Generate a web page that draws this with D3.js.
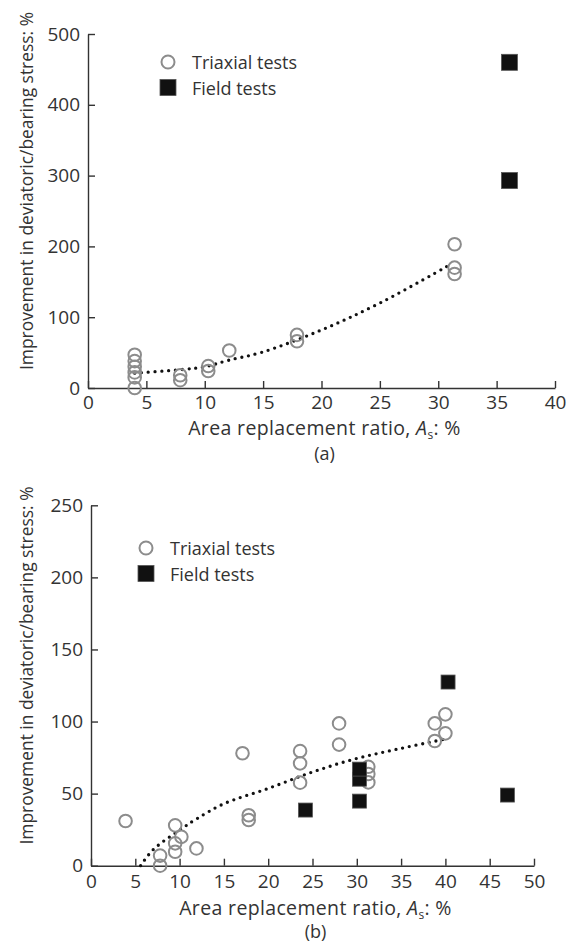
<!DOCTYPE html>
<html lang="en">
<head>
<meta charset="utf-8">
<title>improvement vs area replacement ratio</title>
<script type="text/javascript" src="https://cdnjs.cloudflare.com/ajax/libs/d3/7.8.5/d3.min.js"></script>
<style type="text/css">
  body{margin:0;background:#fff;font-family:"Open Sans",sans-serif;}
  .axis path,.axis line{stroke:#333;stroke-width:1.4;}
  .axis text{font-family:"Open Sans",sans-serif;font-size:19px;fill:#333;}
  .lab{font-family:"Open Sans",sans-serif;font-size:18px;fill:#333;}
  .ylab{font-family:"Open Sans",sans-serif;font-size:17.4px;fill:#333;}
  .xlab{font-family:"Open Sans",sans-serif;font-size:19.5px;letter-spacing:0.35px;fill:#333;}
  .leg{font-family:"Open Sans",sans-serif;font-size:18px;fill:#333;}
</style>
</head>
<body>
<div id="chart"></div>
<script type="text/javascript">
// (a) values
var triAX = [4, 4, 4, 4, 4, 4, 7.9, 7.9, 10.3, 10.3, 12.1, 17.9, 17.9, 31.4, 31.4, 31.4]
var triAY = [47, 38, 30, 22, 15, 0, 18, 11, 31, 24, 53, 75, 66, 203, 170, 161]
var fieldAX = [36.1, 36.1]
var fieldAY = [460, 293]
var trendAX = [4, 8, 10, 12, 15, 20, 25, 31.2]
var trendAY = [21, 26, 30, 39, 51, 82, 120, 176]
var xTicksA = [0, 5, 10, 15, 20, 25, 30, 35, 40]
var yTicksA = [0, 100, 200, 300, 400, 500]

// (b)
var triBX = [3.9, 7.8, 7.8, 9.5, 9.5, 9.5, 10.2, 11.9, 17.1, 17.8, 17.8, 23.6, 23.6, 23.6, 28, 28, 31.3, 31.3, 31.3, 38.8, 38.8, 40, 40]
var triBY = [31, 7, 0, 28, 15.5, 9.7, 20, 12, 78, 35, 31.7, 79.5, 71, 57.6, 98.7, 84, 68.6, 63.6, 57.8, 98.7, 86.5, 105, 91.8]
var fieldBX = [24.2, 30.3, 30.3, 30.3, 40.3, 47]
var fieldBY = [38.6, 44.8, 60, 67, 127.4, 49]
var trendBX = [5.6, 7, 10, 12, 15, 20, 25, 30, 35, 40.1]
var trendBY = [0, 11, 24.7, 32.8, 43, 53.6, 65, 74.4, 81.4, 88]
var xTicksB = [0, 5, 10, 15, 20, 25, 30, 35, 40, 45, 50]
var yTicksB = [0, 50, 100, 150, 200, 250]

var yTitle = "Improvement in deviatoric/bearing stress: %"

var svg = d3.select("#chart").append("svg")
    .attr("width", 571)
    .attr("height", 943)

function zip(xs, ys){
    return xs.map(function(x, i){ return [x, ys[i]] })
}

function drawPanel(o){
    var x = d3.scaleLinear().domain(o.xDomain).range([o.left, o.right])
    var y = d3.scaleLinear().domain(o.yDomain).range([o.bottom, o.top])
    var g = svg.append("g")

    // inward ticks on both axes, tick labels outside
    var xa = g.append("g").attr("class", "axis")
        .attr("transform", "translate(0," + o.bottom + ")")
        .call(d3.axisBottom(x).tickValues(o.xTicks).tickSizeInner(-7).tickSizeOuter(0))
    xa.selectAll("text").attr("dy", null).attr("y", o.tickBase - o.bottom)
    g.append("g").attr("class", "axis")
        .attr("transform", "translate(" + o.left + ",0)")
        .call(d3.axisLeft(y).tickValues(o.yTicks).tickSizeInner(-7).tickSizeOuter(0).tickPadding(8))

    // trend line (dotted)
    g.append("path")
        .datum(zip(o.trendX, o.trendY))
        .attr("fill", "none")
        .attr("stroke", "#111")
        .attr("stroke-width", 3.3)
        .attr("stroke-linecap", "round")
        .attr("stroke-dasharray", "0,6.8")
        .attr("d", d3.line().curve(d3.curveCatmullRom).x(function(d){ return x(d[0]) }).y(function(d){ return y(d[1]) }))

    g.selectAll(".tri").data(zip(o.triX, o.triY)).enter()
        .append("circle").attr("class", "tri")
        .attr("cx", function(d){ return x(d[0]) })
        .attr("cy", function(d){ return y(d[1]) })
        .attr("r", 6.3)
        .attr("fill", "none")
        .attr("stroke", "#8c8c8c")
        .attr("stroke-width", 2)

    var s = o.sq
    g.selectAll(".field").data(zip(o.fieldX, o.fieldY)).enter()
        .append("rect").attr("class", "field")
        .attr("x", function(d){ return x(d[0]) - s / 2 })
        .attr("y", function(d){ return y(d[1]) - s / 2 })
        .attr("width", s).attr("height", s)
        .attr("fill", "#111")
        .attr("stroke", "#555").attr("stroke-width", 0.8)

    // legend
    g.append("circle").attr("cx", o.legX).attr("cy", o.legY).attr("r", 6.5)
        .attr("fill", "none").attr("stroke", "#8c8c8c").attr("stroke-width", 2)
    g.append("rect").attr("x", o.legX - 8).attr("y", o.legY + 25.5 - 8).attr("width", 16).attr("height", 16)
        .attr("fill", "#111").attr("stroke", "#555").attr("stroke-width", 0.8)
    g.append("text").attr("class", "leg").attr("x", o.legX + 24).attr("y", o.legY + 7).text("Triaxial tests")
    g.append("text").attr("class", "leg").attr("x", o.legX + 24).attr("y", o.legY + 32.5).text("Field tests")

    // titles
    g.append("text").attr("class", "ylab")
        .attr("transform", "translate(33," + ((o.top + o.bottom) / 2 - 20) + ") rotate(-90)")
        .attr("text-anchor", "middle")
        .text(yTitle)
    var xt = g.append("text").attr("class", "xlab")
        .attr("x", (o.left + o.right) / 2 + 3).attr("y", o.labBase)
        .attr("text-anchor", "middle")
    xt.append("tspan").text("Area replacement ratio, ")
    xt.append("tspan").attr("font-style", "italic").text("A")
    xt.append("tspan").attr("font-size", "12px").attr("dy", 4).text("s")
    xt.append("tspan").attr("dy", -4).text(": %")
    g.append("text").attr("class", "lab")
        .attr("x", (o.left + o.right) / 2 + 3).attr("y", o.panelBase)
        .attr("text-anchor", "middle")
        .text(o.name)
}

drawPanel({
    xDomain: [0, 40], yDomain: [0, 500], left: 88, right: 555, top: 34, bottom: 388,
    xTicks: xTicksA, yTicks: yTicksA, triX: triAX, triY: triAY, fieldX: fieldAX, fieldY: fieldAY,
    trendX: trendAX, trendY: trendAY, sq: 16, legX: 168, legY: 62,
    tickBase: 409, labBase: 435, panelBase: 460, name: "(a)"
})

drawPanel({
    xDomain: [0, 50], yDomain: [0, 250], left: 91, right: 534, top: 505.3, bottom: 865.7,
    xTicks: xTicksB, yTicks: yTicksB, triX: triBX, triY: triBY, fieldX: fieldBX, fieldY: fieldBY,
    trendX: trendBX, trendY: trendBY, sq: 14, legX: 146, legY: 548,
    tickBase: 888, labBase: 915, panelBase: 938, name: "(b)"
})
</script>
</body>
</html>
